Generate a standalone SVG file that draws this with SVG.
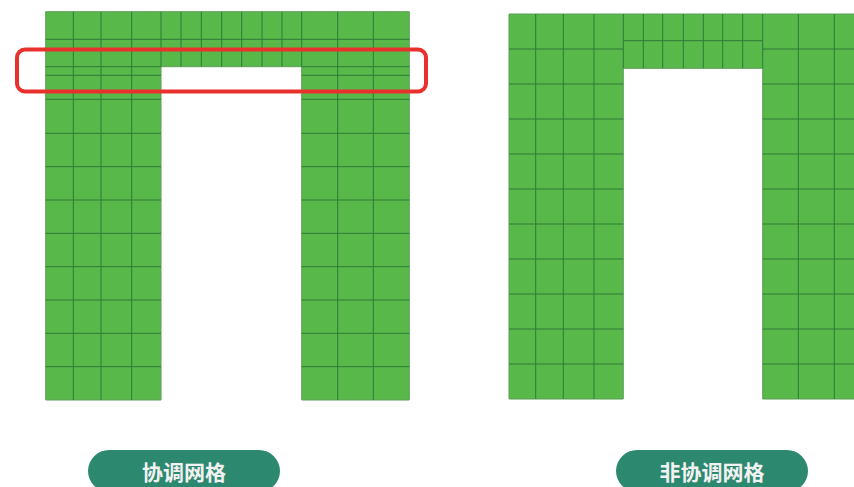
<svg xmlns="http://www.w3.org/2000/svg" width="854" height="487" viewBox="0 0 854 487">
  <style>
    .mesh { fill: #58b84a; stroke: #5f9e58; stroke-width: 1; }
    .grid { fill: none; stroke: #2f7a36; stroke-width: 1; }
    .pill { fill: #2d8870; }
    .lbl { font-family: "Noto Sans CJK SC", "Noto Sans", sans-serif; font-size: 21px; font-weight: bold; fill: #f2f2f2; text-anchor: middle; }
    .hl { fill: none; stroke: #e8302c; stroke-width: 4; }
  </style>
  <rect width="854" height="487" fill="#ffffff"/>

  <g id="mesh-coordinated">
    <path class="mesh" d="M45.7,11.7 H409.3 V400 H301.7 V66.7 H161 V400 H45.7 Z"/>
    <path class="grid" d="
      M45.7,39.3 H409.3
      M45.7,66.7 H161 M301.7,66.7 H409.3
      M45.7,75.3 H161 M301.7,75.3 H409.3
      M45.7,99.3 H161 M301.7,99.3 H409.3
      M45.7,133.3 H161 M301.7,133.3 H409.3
      M45.7,166.7 H161 M301.7,166.7 H409.3
      M45.7,200 H161 M301.7,200 H409.3
      M45.7,233.3 H161 M301.7,233.3 H409.3
      M45.7,266.7 H161 M301.7,266.7 H409.3
      M45.7,300 H161 M301.7,300 H409.3
      M45.7,333.3 H161 M301.7,333.3 H409.3
      M45.7,366.7 H161 M301.7,366.7 H409.3
      M73.3,11.7 V400 M101,11.7 V400 M131.7,11.7 V400
      M161,11.7 V66.7
      M181,11.7 V66.7 M201.3,11.7 V66.7 M221.7,11.7 V66.7 M241.7,11.7 V66.7 M262,11.7 V66.7 M282,11.7 V66.7
      M301.7,11.7 V66.7
      M337.7,11.7 V400 M373.3,11.7 V400"/>
  </g>

  <g id="mesh-noncoordinated">
    <path class="mesh" d="M509,14 H880 V399 H762.7 V68.3 H623.3 V399 H509 Z"/>
    <path class="grid" d="
      M623.3,40.7 H762.7
      M509,49 H623.3 M762.7,49 H880
      M509,84 H623.3 M762.7,84 H880
      M509,119 H623.3 M762.7,119 H880
      M509,154 H623.3 M762.7,154 H880
      M509,189 H623.3 M762.7,189 H880
      M509,224 H623.3 M762.7,224 H880
      M509,259 H623.3 M762.7,259 H880
      M509,294 H623.3 M762.7,294 H880
      M509,329 H623.3 M762.7,329 H880
      M509,364 H623.3 M762.7,364 H880
      M535.7,14 V399 M563.3,14 V399 M594,14 V399
      M623.3,14 V68.3
      M643.3,14 V68.3 M662.7,14 V68.3 M683.3,14 V68.3 M703.3,14 V68.3 M722.7,14 V68.3 M742.7,14 V68.3
      M762.7,14 V68.3
      M798.3,14 V399 M834.3,14 V399"/>
  </g>

  <g id="highlight">
    <rect class="hl" x="17" y="49.5" width="409" height="42" rx="8"/>
  </g>

  <g id="label-coordinated">
    <rect class="pill" x="88" y="450" width="192" height="42" rx="21"/>
    <text class="lbl" x="184" y="480">协调网格</text>
  </g>

  <g id="label-noncoordinated">
    <rect class="pill" x="616" y="450" width="192" height="42" rx="21"/>
    <text class="lbl" x="712" y="480">非协调网格</text>
  </g>

  <g id="connectors"/>
</svg>
